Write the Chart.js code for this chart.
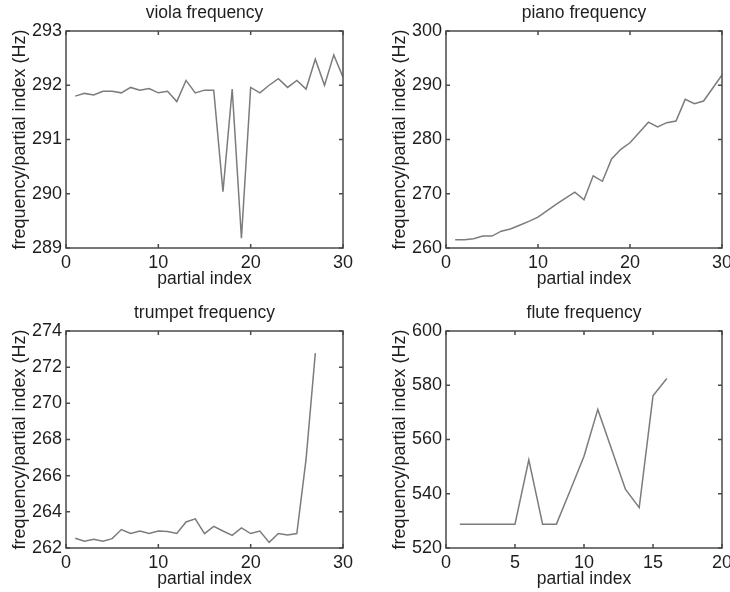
<!DOCTYPE html>
<html>
<head>
<meta charset="utf-8">
<script src="https://cdn.jsdelivr.net/npm/chart.js@4.4.1/dist/chart.umd.min.js"></script>
<style>
  html, body { margin: 0; padding: 0; background: #fff; overflow: hidden; }
  #wrap { position: relative; width: 730px; height: 592px; overflow: hidden; }
  canvas { position: absolute; }
</style>
</head>
<body>
<div id="wrap">
  <canvas id="viola" width="365" height="296" style="left:0;top:0"></canvas>
  <canvas id="piano" width="360" height="296" style="left:380px;top:0"></canvas>
  <canvas id="trumpet" width="365" height="296" style="left:0;top:300px"></canvas>
  <canvas id="flute" width="360" height="296" style="left:380px;top:300px"></canvas>
</div>
<script>
// partial indices
const violaIdx = [1,2,3,4,5,6,7,8,9,10,11,12,13,14,15,16,17,18,19,20,21,22,23,24,25,26,27,28,29,30];
const pianoIdx = [1,2,3,4,5,6,7,8,9,10,11,12,13,14,15,16,17,18,19,20,21,22,23,24,25,26,27,28,29,30];
const trumpetIdx = [1,2,3,4,5,6,7,8,9,10,11,12,13,14,15,16,17,18,19,20,21,22,23,24,25,26,27];
const fluteIdx = [1,2,3,4,5,6,7,8,9,10,11,12,13,14,15,16];

// frequency / partial index (Hz)
const violaFreq = [291.80, 291.85, 291.82, 291.89, 291.89, 291.86, 291.96, 291.91, 291.94, 291.86,
  291.89, 291.70, 292.09, 291.86, 291.91, 291.91, 290.04, 291.93, 289.18, 291.96,
  291.86, 292.00, 292.12, 291.96, 292.09, 291.93, 292.48, 292.00, 292.56, 292.15];
const pianoFreq = [261.5, 261.5, 261.7, 262.2, 262.2, 263.1, 263.5, 264.2, 264.9, 265.7,
  266.9, 268.1, 269.2, 270.3, 268.9, 273.3, 272.3, 276.4, 278.2, 279.4,
  281.3, 283.2, 282.3, 283.1, 283.4, 287.4, 286.6, 287.1, 289.5, 291.9];
const trumpetFreq = [262.54, 262.37, 262.48, 262.37, 262.52, 263.02, 262.80, 262.94, 262.80, 262.94,
  262.91, 262.80, 263.44, 263.61, 262.80, 263.20, 262.94, 262.70, 263.11, 262.80,
  262.94, 262.31, 262.80, 262.72, 262.80, 266.91, 272.78];
const fluteFreq = [528.8, 528.8, 528.8, 528.8, 528.8, 552.5, 528.8, 528.8, 541.2, 553.8,
  571.1, 556.4, 541.7, 534.9, 576.1, 582.5];

// axis ranges / tick steps
const violaY = [289, 293, 1];
const pianoY = [260, 300, 10];
const trumpetY = [262, 274, 2];
const fluteY = [520, 600, 20];
const violaX = [0, 30, 10];
const pianoX = [0, 30, 10];
const trumpetX = [0, 30, 10];
const fluteX = [0, 20, 5];

const TEXT = '#1e1e1e';
const FONT = "'Liberation Sans', Arial, sans-serif";

// matlab style box with inward ticks on all sides
const boxPlugin = {
  id: 'box',
  afterDraw(chart) {
    const { ctx, chartArea: a, scales } = chart;
    const tl = 4;
    ctx.save();
    ctx.strokeStyle = '#4a4a4a';
    ctx.lineWidth = 1.5;
    ctx.strokeRect(a.left, a.top, a.right - a.left, a.bottom - a.top);
    ctx.beginPath();
    scales.x.ticks.forEach(t => {
      const px = scales.x.getPixelForValue(t.value);
      ctx.moveTo(px, a.bottom); ctx.lineTo(px, a.bottom - tl);
      ctx.moveTo(px, a.top); ctx.lineTo(px, a.top + tl);
    });
    scales.y.ticks.forEach(t => {
      const py = scales.y.getPixelForValue(t.value);
      ctx.moveTo(a.left, py); ctx.lineTo(a.left + tl, py);
      ctx.moveTo(a.right, py); ctx.lineTo(a.right - tl, py);
    });
    ctx.stroke();
    ctx.restore();
  }
};

function makeChart(id, title, xs, ys, xr, yr, padRight) {
  const pts = xs.map((x, i) => ({ x: x, y: ys[i] }));
  return new Chart(document.getElementById(id), {
    type: 'line',
    data: {
      datasets: [{
        data: pts,
        borderColor: '#7c7c7c',
        borderWidth: 1.5,
        pointRadius: 0,
        tension: 0,
        fill: false
      }]
    },
    options: {
      responsive: false,
      animation: false,
      devicePixelRatio: 1,
      layout: { padding: { left: 0, right: padRight, top: 0, bottom: 0 } },
      plugins: {
        legend: { display: false },
        tooltip: { enabled: false },
        title: {
          display: true,
          fullSize: false,
          text: title,
          color: TEXT,
          font: { family: FONT, size: 17.5, weight: 'normal', lineHeight: 1.2 },
          padding: { top: 3, bottom: 7 }
        }
      },
      scales: {
        x: {
          type: 'linear',
          min: xr[0], max: xr[1],
          grid: { display: false, drawTicks: false },
          border: { display: false },
          ticks: { stepSize: xr[2], color: TEXT, padding: 4, maxRotation: 0,
            font: { family: FONT, size: 18, lineHeight: 1.2 } },
          title: { display: true, text: 'partial index', color: TEXT,
            font: { family: FONT, size: 17.5, lineHeight: 1.2 }, padding: { top: 0, bottom: 6 } },
          afterFit(s) { s.height = 48; }
        },
        y: {
          min: yr[0], max: yr[1],
          grid: { display: false, drawTicks: false },
          border: { display: false },
          ticks: { stepSize: yr[2], color: TEXT, padding: 4,
            font: { family: FONT, size: 18, lineHeight: 1.2 } },
          title: { display: true, text: 'frequency/partial index (Hz)', color: TEXT,
            font: { family: FONT, size: 18, lineHeight: 1.2 }, padding: { top: 9, bottom: 0 } },
          afterFit(s) { s.width = 66; }
        }
      }
    },
    plugins: [boxPlugin]
  });
}

makeChart('viola', 'viola frequency', violaIdx, violaFreq, violaX, violaY, 22);
makeChart('piano', 'piano frequency', pianoIdx, pianoFreq, pianoX, pianoY, 18);
makeChart('trumpet', 'trumpet frequency', trumpetIdx, trumpetFreq, trumpetX, trumpetY, 22);
makeChart('flute', 'flute frequency', fluteIdx, fluteFreq, fluteX, fluteY, 18);
</script>
</body>
</html>
